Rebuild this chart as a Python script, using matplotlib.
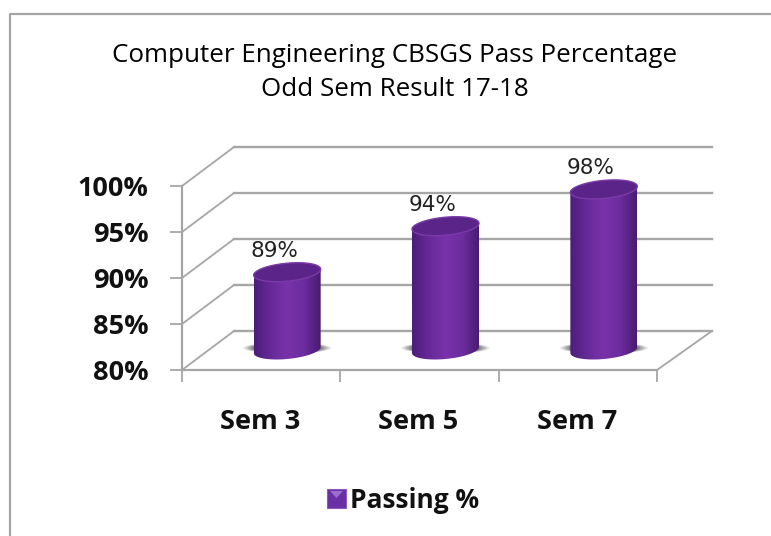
import matplotlib
matplotlib.use("Agg")
import matplotlib.pyplot as plt
from matplotlib.lines import Line2D
from matplotlib.patches import Polygon, Rectangle
from matplotlib.colors import LinearSegmentedColormap
import numpy as np

categories = ["Sem 3", "Sem 5", "Sem 7"]
passing = [89, 94, 98]
ytick_vals = [80, 85, 90, 95, 100]
ytick_labels = ["80%", "85%", "90%", "95%", "100%"]

W, H = 771, 536
GREY = "#a6a6a6"
TXT = "#111111"

fig = plt.figure(figsize=(W/100, H/100), dpi=100)
fig.patch.set_facecolor("white")

#chart frame, only top and left are inside the picture
fig.add_artist(Line2D([10/W, 10/W, 1], [0, 1 - 14/H, 1 - 14/H], transform=fig.transFigure,
                      color=GREY, lw=1.6))

#front plane of the 3d box is the real axes
ax = fig.add_axes([182/W, 1 - 370/H, 475/W, 184/H])
ax.set_xlim(0, 3)
ax.set_ylim(80, 100)
ax.patch.set_alpha(0)

sx = 475/3   #pixels per category
sy = 184/20  #pixels per value unit
dx = 52/sx   #depth of the box
dx_right = 55/sx
dy = 39/sy

#walls
for v in ytick_vals:
    ax.plot([0, dx], [v, v+dy], color=GREY, lw=1.3, clip_on=False, zorder=1)
    ax.plot([dx, 3+dx_right], [v+dy, v+dy], color=GREY, lw=1.7, clip_on=False, zorder=1)
ax.plot([3, 3+dx_right], [80, 80+dy], color=GREY, lw=1.3, clip_on=False, zorder=1)

for s in ["top", "right"]:
    ax.spines[s].set_visible(False)
for s in ["left", "bottom"]:
    ax.spines[s].set_color(GREY)
    ax.spines[s].set_linewidth(1.6)

ax.set_yticks(ytick_vals)
ax.set_yticklabels(ytick_labels, fontsize=19.5, fontweight="bold", family="Open Sans", color=TXT,
                   y=-0.005)
ax.set_xticks([0, 1, 2, 3])
ax.set_xticklabels([])
ax.tick_params(axis="y", length=8.5, width=1.3, color=GREY, pad=15.5)
ax.tick_params(axis="x", length=8.5, width=1.3, color=GREY)

for i, c in enumerate(categories):
    ax.text(i + 0.5 - 1/sx, 80 - 52/sy, c, ha="center", va="center",
            fontsize=19.5, fontweight="bold", family="Open Sans", color=TXT, clip_on=False)

#cylinders
cyl = LinearSegmentedColormap.from_list("cyl", ["#4c1d78", "#662a98", "#7832aa", "#6c2c9e", "#471b70"])
grad = np.linspace(0, 1, 256).reshape(1, -1)
rx = 33.5/sx
ry = 9/sy
tilt = 3/sy
t = np.linspace(0, 2*np.pi, 80)

def ellipse_pts(cx, cy):
    return np.column_stack([cx + rx*np.cos(t), cy + ry*np.sin(t) + tilt*np.cos(t)])

for i, v in enumerate(passing):
    cx = i + 0.5 + 26/sx
    base = 80 + 20/sy
    top = v + 15/sy

    #floor shadow
    for k, a in zip([1.32, 1.25, 1.18, 1.1, 1.04], [0.12, 0.18, 0.25, 0.3, 0.35]):
        ax.add_patch(Polygon(np.column_stack([cx + rx*k*np.cos(t), base + 2/sy + 5.5/sy*np.sin(t)]),
                             closed=True, fc="#555555", ec="none", alpha=a, zorder=2, clip_on=False))

    #body, lower half of base ellipse joined with top ellipse
    low = t[(t >= np.pi)]
    xs = cx + rx*np.cos(low)
    ys = base + ry*np.sin(low) + tilt*np.cos(low)
    body = np.vstack([np.column_stack([xs, ys]),
                      [[cx + rx, top + tilt]], [[cx - rx, top - tilt]]])
    patch = Polygon(body, closed=True, fc="none", ec="none", zorder=3)
    ax.add_patch(patch)
    im = ax.imshow(grad, cmap=cyl, aspect="auto", zorder=3,
                   extent=[cx - rx, cx + rx, base - 2*ry, top + ry], clip_on=True)
    im.set_clip_path(patch)

    #top face
    ax.add_patch(Polygon(ellipse_pts(cx, top), closed=True, fc="#5a2488", ec="#7a3aa8",
                         lw=1.0, zorder=4, clip_on=False))

    ax.text(cx - 13/sx, top + ry + 2/sy, "%d%%" % v, ha="center", va="bottom", fontsize=15.5,
            family="DejaVu Sans", color="#222222", zorder=5, clip_on=False)

ax.set_xlim(0, 3)
ax.set_ylim(80, 100)

#title
fig.text(395/W, 1 - 56/H, "Computer Engineering CBSGS Pass Percentage", ha="center", va="center",
         fontsize=18.7, family="Open Sans", color="black")
fig.text(395/W, 1 - 89/H, "Odd Sem Result 17-18", ha="center", va="center",
         fontsize=18.7, family="Open Sans", color="black")

#legend
fig.add_artist(Rectangle((327/W, 1 - 508/H), 19/W, 19/H, transform=fig.transFigure,
                         fc="#6a2fa5", ec="#8a5cc0", lw=0.8))
fig.add_artist(Polygon([[330/W, 1 - 491/H], [343/W, 1 - 491/H], [336.5/W, 1 - 498/H]],
                       closed=True, transform=fig.transFigure, fc="#9a6fd0", ec="none"))
fig.text(350/W, 1 - 501/H, "Passing %", ha="left", va="center", fontsize=19, fontweight="bold",
         family="Open Sans", color=TXT)

fig.savefig("out.png", dpi=100)
